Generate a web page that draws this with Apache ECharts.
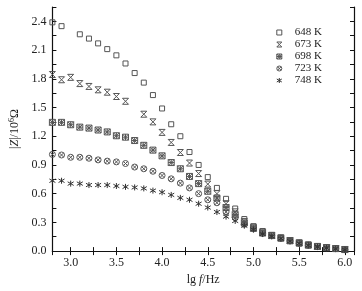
<!DOCTYPE html>
<html>
<head>
<meta charset="utf-8">
<script src="https://cdn.jsdelivr.net/npm/echarts@6/dist/echarts.min.js"></script>
<style>
  html, body { margin: 0; padding: 0; background: #fff; }
  #chart { width: 362px; height: 291px; }
</style>
</head>
<body>
<div id="chart"></div>
<script>
// lg f 轴上的频率点
var lgF = [2.8, 2.9, 3.0, 3.1, 3.2, 3.3, 3.4, 3.5, 3.6, 3.7, 3.8, 3.9, 4.0, 4.1, 4.2, 4.3,
  4.4, 4.5, 4.6, 4.7, 4.8, 4.9, 5.0, 5.1, 5.2, 5.3, 5.4, 5.5, 5.6, 5.7, 5.8, 5.9, 6.0];

var z648 = [2.39, 2.35, null, 2.265, 2.22, 2.17, 2.11, 2.045, 1.96, 1.86, 1.76, 1.63, 1.49, 1.325, 1.20, 1.035,
  0.90, 0.773, 0.66, 0.546, 0.445, 0.335, 0.26, 0.21, 0.168, 0.14, 0.112, 0.088, 0.066, 0.05, 0.038, 0.028, 0.018];
var z673 = [1.845, 1.79, 1.815, 1.75, 1.72, 1.685, 1.66, 1.615, 1.565, null, 1.43, 1.35, 1.24, 1.135, 1.03, 0.92,
  0.81, 0.70, 0.60, 0.495, 0.41, 0.31, 0.25, 0.20, 0.165, 0.138, 0.11, 0.086, 0.064, 0.049, 0.037, 0.027, 0.017];
var z698 = [1.345, 1.345, 1.32, 1.295, 1.285, 1.265, 1.245, 1.205, 1.19, 1.155, 1.105, 1.055, 0.995, 0.925, 0.86, 0.78,
  0.705, 0.625, 0.555, 0.455, 0.38, 0.295, 0.24, 0.19, 0.162, 0.136, 0.108, 0.084, 0.063, 0.048, 0.036, 0.026, 0.016];
var z723 = [1.01, 1.004, 0.98, 0.98, 0.97, 0.953, 0.94, 0.932, 0.915, 0.878, 0.86, 0.834, 0.79, 0.755, 0.71, 0.66,
  0.60, 0.536, 0.505, 0.41, 0.35, 0.28, 0.232, 0.185, 0.16, 0.134, 0.106, 0.082, 0.062, 0.047, 0.035, 0.025, 0.015];
var z748 = [0.735, 0.735, 0.705, 0.705, 0.69, 0.69, 0.69, 0.68, 0.671, 0.665, 0.655, 0.632, 0.615, 0.587, 0.556, 0.536,
  0.495, 0.455, 0.408, 0.36, 0.315, 0.265, 0.225, 0.178, 0.155, 0.13, 0.104, 0.08, 0.06, 0.046, 0.033, 0.024, 0.014];

var seriesNames = ['648 K', '673 K', '698 K', '723 K', '748 K'];
var yTicks = [0.0, 0.3, 0.6, 0.9, 1.2, 1.5, 1.8, 2.1, 2.4];

var font = '"Liberation Serif", "DejaVu Serif", serif';

// 符号（只描边）
var symbols = [
  'rect',
  'path://M0,0 L10,0 M0,10 L10,10 M0,0 L10,10 M10,0 L0,10',
  'path://M0,0 L10,0 L10,10 L0,10 Z M0,0 L10,10 M10,0 L0,10 M5,0 L5,10 M0,5 L10,5',
  'path://M0,5 A5,5 0 1,0 10,5 A5,5 0 1,0 0,5 Z M1.5,1.5 L8.5,8.5 M8.5,1.5 L1.5,8.5',
  'path://M5,0 L5,10 M0,2 L10,8 M10,2 L0,8'
];
var strokeColors = ['#555', '#555', '#555', '#555', '#333'];

function pairs(arr) {
  var out = [];
  for (var i = 0; i < lgF.length; i++) {
    if (arr[i] !== null) out.push([lgF[i], arr[i]]);
  }
  return out;
}

var allData = [z648, z673, z698, z723, z748];
var series = [];
var legendData = [];
for (var k = 0; k < allData.length; k++) {
  var st = {
    color: 'transparent',
    borderColor: strokeColors[k],
    borderWidth: 1,
    opacity: 1
  };
  series.push({
    name: seriesNames[k],
    type: 'scatter',
    symbol: symbols[k],
    symbolSize: k === 0 ? 5 : 6,
    clip: false,
    itemStyle: st,
    data: pairs(allData[k])
  });
  legendData.push({ name: seriesNames[k], icon: symbols[k], itemStyle: st });
}

var axisLineStyle = { color: '#111', width: 1.2 };

var chart = echarts.init(document.getElementById('chart'));
var option = {
  animation: false,
  backgroundColor: '#fff',
  grid: { left: 44, right: 8, top: 7, bottom: 34 },
  legend: {
    orient: 'vertical',
    right: 35,
    top: 22,
    itemWidth: 5,
    itemHeight: 5,
    itemGap: 1,
    textStyle: { fontFamily: font, fontSize: 11, color: '#222', padding: [0, 0, 0, 8] },
    data: legendData
  },
  xAxis: [{
    type: 'value',
    min: 2.8,
    max: 6.1,
    splitNumber: 5,
    name: '{n|lg }{i|f}{n|/Hz}',
    nameLocation: 'middle',
    nameGap: 20,
    nameTextStyle: {
      rich: {
        n: { fontFamily: font, fontSize: 12, color: '#222' },
        i: { fontFamily: font, fontSize: 12, color: '#222', fontStyle: 'italic' }
      }
    },
    axisLine: { lineStyle: axisLineStyle },
    axisTick: { inside: true, length: 4, lineStyle: { color: '#111' } },
    minorTick: { show: true, splitNumber: 2, length: 4, lineStyle: { color: '#111' } },
    splitLine: { show: false },
    axisLabel: {
      showMinLabel: false,
      showMaxLabel: false,
      fontFamily: font,
      fontSize: 12,
      color: '#222',
      margin: 6,
      formatter: function (v) { return v.toFixed(1); }
    }
  }, {
    type: 'value',
    position: 'top',
    min: 2.8,
    max: 6.1,
    splitNumber: 5,
    axisLine: { lineStyle: axisLineStyle },
    axisTick: { inside: true, length: 4, lineStyle: { color: '#111' } },
    minorTick: { show: true, splitNumber: 2, length: 4, lineStyle: { color: '#111' } },
    splitLine: { show: false },
    axisLabel: { show: false }
  }],
  yAxis: [{
    type: 'value',
    min: 0,
    max: 2.55,
    interval: 0.3,
    name: '{n||}{i|Z}{n||/10}{s|6}{n|Ω}',
    nameLocation: 'middle',
    nameGap: 30,
    nameTextStyle: {
      rich: {
        n: { fontFamily: font, fontSize: 12, color: '#222' },
        i: { fontFamily: font, fontSize: 12, color: '#222', fontStyle: 'italic' },
        s: { fontFamily: font, fontSize: 8, color: '#222', verticalAlign: 'top', padding: [0, 0, 5, 0] }
      }
    },
    axisLine: { lineStyle: axisLineStyle },
    axisTick: { inside: true, length: 4, lineStyle: { color: '#111' } },
    minorTick: { show: true, splitNumber: 2, length: 4, lineStyle: { color: '#111' } },
    splitLine: { show: false },
    axisLabel: {
      showMaxLabel: false,
      fontFamily: font,
      fontSize: 12,
      color: '#222',
      margin: 6,
      formatter: function (v) {
        for (var i = 0; i < yTicks.length; i++) {
          if (Math.abs(yTicks[i] - v) < 1e-6) return yTicks[i].toFixed(1);
        }
        return '';
      }
    }
  }, {
    type: 'value',
    position: 'right',
    min: 0,
    max: 2.55,
    interval: 0.3,
    axisLine: { show: true, lineStyle: axisLineStyle },
    axisTick: { show: true, inside: true, length: 4, lineStyle: { color: '#111' } },
    minorTick: { show: true, splitNumber: 2, length: 4, lineStyle: { color: '#111' } },
    splitLine: { show: false },
    axisLabel: { show: false }
  }],
  series: series
};
chart.setOption(option);
</script>
</body>
</html>
